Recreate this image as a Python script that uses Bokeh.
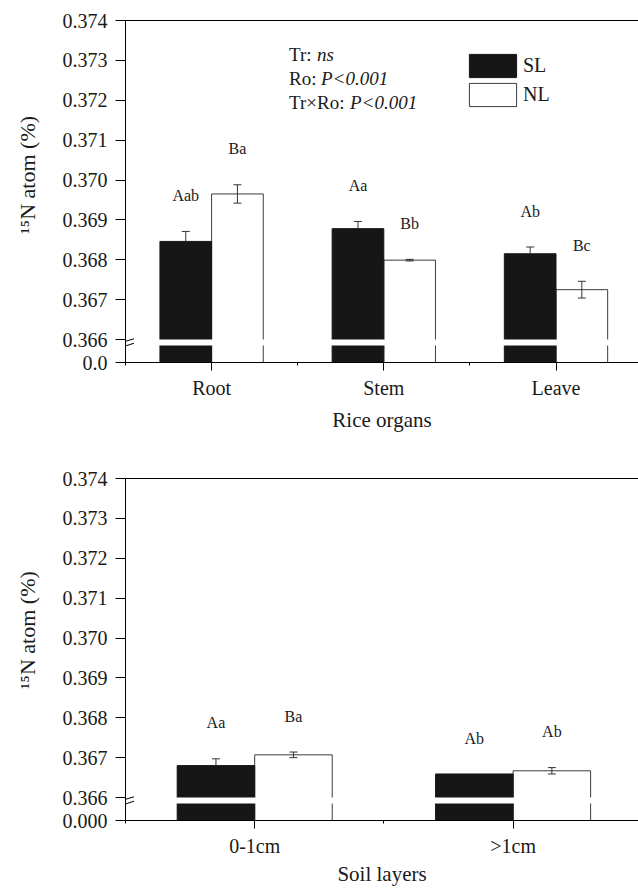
from bokeh.plotting import figure
from bokeh.layouts import column
from bokeh.models import (FixedTicker, LinearAxis, Whisker, TeeHead, Label, Arrow,
                          Legend, LegendItem, Range1d, ColumnDataSource)
from bokeh.embed import file_html
from bokeh.resources import INLINE

# ---------------- data ----------------
organs = ["Root", "Stem", "Leave"]
organ_sl = [0.36846, 0.36878, 0.36815]
organ_sl_err = [0.00025, 0.00018, 0.00017]
organ_nl = [0.36965, 0.36799, 0.36725]
organ_nl_err = [0.00023, 0.00002, 0.00021]
organ_sl_letters = ["Aab", "Aa", "Ab"]
organ_nl_letters = ["Ba", "Bb", "Bc"]

soils = ["0-1cm", ">1cm"]
soil_sl = [0.36680, 0.36659]
soil_sl_err = [0.00017, 0.0]
soil_nl = [0.36707, 0.36667]
soil_nl_err = [0.00007, 0.00008]
soil_sl_letters = ["Aa", "Ab"]
soil_nl_letters = ["Ba", "Ab"]

y_tick_labels = ["0.366", "0.367", "0.368", "0.369", "0.370", "0.371", "0.372", "0.373", "0.374"]
series_names = ["SL", "NL"]
stats_lines = [("Tr: ", "ns"), ("Ro: ", "P<0.001"), ("Tr\u00d7Ro: ", "P<0.001")]
y_title = "\u00b9\u2075N atom (%)"

# ---------------- scale (broken axis) ----------------
Y_BREAK = 0.366
Y_STEP = 0.001
FRAME_W = 513
FRAME_H = 342
LEFT = 125
ZERO_D = -0.5768   # display position of the true zero below the break
GAP_D = 0.15       # height of the white break gap
FONT = "Liberation Serif"
BAR_W = 0.3
NBSP = "\u00a0"


def disp(v):
    return (v - Y_BREAK) / Y_STEP


def make_panel(cats, sl, sl_err, nl, nl_err, sl_let, nl_let, zero_label, x_title,
               x_end, height, border_top, border_bottom, page_top, ylab_pad,
               xtitle_standoff, stats=False, legend=False):
    xr = Range1d(0.5, x_end)
    yr = Range1d(ZERO_D, len(y_tick_labels) - 1)
    p = figure(width=LEFT + FRAME_W, height=height, x_range=xr, y_range=yr,
               output_backend="svg", toolbar_location=None,
               min_border_left=LEFT, min_border_right=0,
               min_border_top=border_top, min_border_bottom=border_bottom)
    p.outline_line_color = None
    p.xgrid.visible = False
    p.ygrid.visible = False
    p.background_fill_color = "white"
    p.border_fill_color = "white"

    frame_left_px = LEFT
    frame_bottom_px = page_top + border_top + FRAME_H
    ppx = (xr.end - xr.start) / FRAME_W
    ppy = (yr.end - yr.start) / FRAME_H

    def to_data(px, py):
        return xr.start + (px - frame_left_px) * ppx, yr.start + (frame_bottom_px - py) * ppy

    xs = [i + 1 for i in range(len(cats))]
    x_sl = [x - BAR_W / 2 for x in xs]
    x_nl = [x + BAR_W / 2 for x in xs]

    # bars (NL first so SL fill covers the shared edge)
    r_nl = p.vbar(x=x_nl, width=BAR_W, bottom=ZERO_D, top=[disp(v) for v in nl],
                  fill_color="white", line_color="#3c3c3c", line_width=1)
    r_sl = p.vbar(x=x_sl, width=BAR_W, bottom=ZERO_D, top=[disp(v) for v in sl],
                  fill_color="#161616", line_color="#161616", line_width=1)
    # break gap
    p.quad(left=xr.start, right=xr.end, bottom=-GAP_D, top=0,
           fill_color="white", line_color=None)

    # error bars
    sl_src = ColumnDataSource(dict(
        x=[x for x, e in zip(x_sl, sl_err) if e > 0],
        lower=[disp(v) for v, e in zip(sl, sl_err) if e > 0],
        upper=[disp(v + e) for v, e in zip(sl, sl_err) if e > 0]))
    nl_src = ColumnDataSource(dict(
        x=x_nl,
        lower=[disp(v - e) for v, e in zip(nl, nl_err)],
        upper=[disp(v + e) for v, e in zip(nl, nl_err)]))
    p.add_layout(Whisker(source=sl_src, base="x", lower="lower", upper="upper",
                         dimension="height", line_color="#333333", line_width=1,
                         lower_head=None,
                         upper_head=TeeHead(size=8, line_color="#333333", line_width=1),
                         level="annotation"))
    p.add_layout(Whisker(source=nl_src, base="x", lower="lower", upper="upper",
                         dimension="height", line_color="#333333", line_width=1,
                         lower_head=TeeHead(size=8, line_color="#333333", line_width=1),
                         upper_head=TeeHead(size=8, line_color="#333333", line_width=1),
                         level="annotation"))

    # significance letters
    off = 0.0009
    p.text(x=x_sl + x_nl,
           y=[disp(v + e + off) for v, e in zip(sl, sl_err)] + [disp(v + e + off) for v, e in zip(nl, nl_err)],
           text=sl_let + nl_let, text_align="center", text_baseline="middle",
           text_font={"value": FONT}, text_font_size={"value": "16px"}, text_color="#1a1a1a")

    # x axis
    xa = p.below[0]
    xa.ticker = FixedTicker(ticks=xs, minor_ticks=[x - 0.5 for x in xs])
    xa.major_label_overrides = {x: c for x, c in zip(xs, cats)}
    xa.major_tick_out = 8
    xa.major_tick_in = 0
    xa.minor_tick_out = 3
    xa.minor_tick_in = 0
    xa.axis_line_color = "black"
    xa.major_tick_line_color = "black"
    xa.minor_tick_line_color = "black"
    xa.major_label_text_font = FONT
    xa.major_label_text_font_size = "20px"
    xa.major_label_text_color = "#1a1a1a"
    xa.major_label_standoff = 6
    xa.axis_label = x_title
    xa.axis_label_text_font = FONT
    xa.axis_label_text_font_size = "21px"
    xa.axis_label_text_font_style = "normal"
    xa.axis_label_text_color = "#1a1a1a"
    xa.axis_label_standoff = xtitle_standoff

    # y axis
    ya = p.left[0]
    ticks = [ZERO_D] + list(range(len(y_tick_labels)))
    ya.ticker = FixedTicker(ticks=ticks, minor_ticks=[])
    overrides = {ZERO_D: zero_label}
    for i, lab in enumerate(y_tick_labels):
        overrides[i] = lab
    ya.major_label_overrides = overrides
    ya.major_tick_out = 10
    ya.major_tick_in = 0
    ya.axis_line_color = "black"
    ya.major_tick_line_color = "black"
    ya.major_label_text_font = FONT
    ya.major_label_text_font_size = "20px"
    ya.major_label_text_color = "#1a1a1a"
    ya.major_label_standoff = 8
    ya.axis_label = NBSP * ylab_pad + y_title
    ya.axis_label_text_font = FONT
    ya.axis_label_text_font_size = "22px"
    ya.axis_label_text_font_style = "normal"
    ya.axis_label_text_color = "#1a1a1a"
    ya.axis_label_standoff = 20

    # top border line
    top_axis = LinearAxis(ticker=FixedTicker(ticks=[]), major_tick_line_color=None,
                          minor_tick_line_color=None, major_label_standoff=0,
                          axis_label_standoff=0, axis_line_color="black")
    p.add_layout(top_axis, "above")

    # axis break marks
    marks = [((-8.5, 4.3), (8.5, -0.7)), ((-8.5, 9.3), (8.5, 3.7))]
    gap_top_px = frame_bottom_px - (0 - ZERO_D) / ppy
    for (dx0, dy0), (dx1, dy1) in marks:
        x0, y0 = to_data(frame_left_px + dx0, gap_top_px + dy0)
        x1, y1 = to_data(frame_left_px + dx1, gap_top_px + dy1)
        p.add_layout(Arrow(x_start=x0, y_start=y0, x_end=x1, y_end=y1, start=None, end=None,
                           line_color="black", line_width=1))

    if stats:
        widths = [28, 32, 61]
        for (norm, ital), w, py in zip(stats_lines, widths, [53.5, 77.5, 101.5]):
            lx, ly = to_data(288.5, py)
            p.add_layout(Label(x=lx, y=ly, text=norm, text_align="left", text_baseline="middle",
                               text_font=FONT, text_font_size="19px", text_color="#1a1a1a"))
            ix, iy = to_data(288.5 + w, py)
            p.add_layout(Label(x=ix, y=iy, text=ital, text_align="left", text_baseline="middle",
                               text_font=FONT, text_font_size="19px", text_font_style="italic",
                               text_color="#1a1a1a"))

    if legend:
        leg = Legend(items=[LegendItem(label=series_names[0], renderers=[r_sl]),
                            LegendItem(label=series_names[1], renderers=[r_nl])],
                     location=(338, 253), glyph_width=59, glyph_height=29, spacing=-3,
                     padding=0, margin=0, label_standoff=1, label_height=20,
                     border_line_color=None, background_fill_alpha=0,
                     label_text_font=FONT, label_text_font_size="20px",
                     label_text_color="#1a1a1a")
        p.add_layout(leg)
    return p


p1 = make_panel(organs, organ_sl, organ_sl_err, organ_nl, organ_nl_err,
                organ_sl_letters, organ_nl_letters, "0.0", "Rice organs",
                0.5 + FRAME_W / 172.2, 440, 20, 78, 0, 6, 6, stats=True, legend=True)
p2 = make_panel(soils, soil_sl, soil_sl_err, soil_nl, soil_nl_err,
                soil_sl_letters, soil_nl_letters, "0.000", "Soil layers",
                0.5 + FRAME_W / 258.4, 449, 38, 69, 440, 7, 2)

layout = column(p1, p2, spacing=0)
open("out.html", "w").write(file_html(layout, INLINE))
